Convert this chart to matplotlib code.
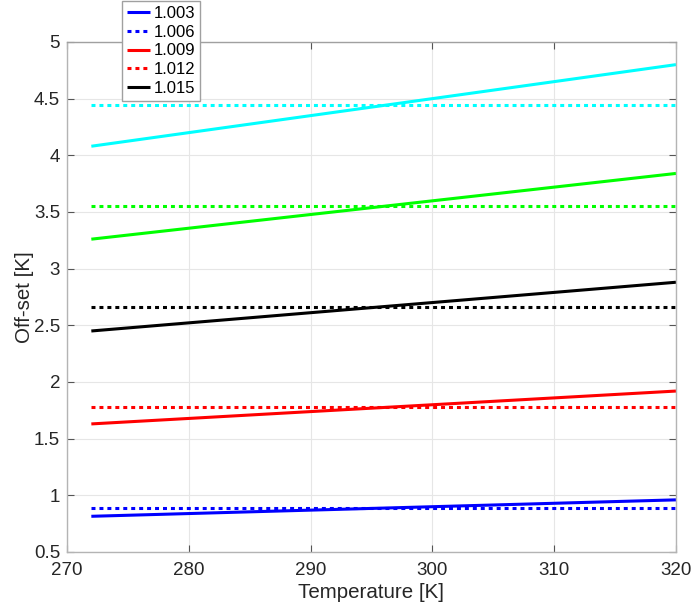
import matplotlib as mpl
mpl.use('Agg')
import matplotlib.pyplot as plt

plt.rcParams['font.family'] = ['Liberation Sans', 'DejaVu Sans']

# end points of each (straight) line
temp = [272, 320]
solid_vals = [[0.815, 0.96], [1.63, 1.92], [2.45, 2.88], [3.26, 3.84], [4.08, 4.80]]
dotted_vals = [0.888, 1.775, 2.663, 3.55, 4.44]
colors = ['#0000ff', '#ff0000', '#000000', '#00ff00', '#00ffff']
labels = ['1.003', '1.006', '1.009', '1.012', '1.015']

lw = 2.2
fig = plt.figure(figsize=(6.94, 6.09), dpi=100)
ax = fig.add_axes([0.0965, 0.0936, 0.8775, 0.8375])

handles = []
for sv, dv, c in zip(solid_vals, dotted_vals, colors):
    h1, = ax.plot(temp, sv, color=c, lw=lw, solid_capstyle='butt')
    h2, = ax.plot(temp, [dv, dv], color=c, lw=lw, linestyle=(0, (1.3, 1.3)))
    handles += [h1, h2]

ax.set_xlim(270, 320)
ax.set_ylim(0.5, 5)
ax.set_xticks([270, 280, 290, 300, 310, 320])
ax.set_yticks([0.5, 1, 1.5, 2, 2.5, 3, 3.5, 4, 4.5, 5])
ax.set_yticklabels(['0.5', '1', '1.5', '2', '2.5', '3', '3.5', '4', '4.5', '5'])
ax.grid(True, color='#e6e6e6', lw=0.8)
ax.set_axisbelow(True)
ax.tick_params(direction='in', length=5, width=0.8, color='#555555',
               labelsize=13.5, labelcolor='#262626', top=True, right=True)
ax.tick_params(axis='x', pad=7)
ax.tick_params(axis='y', pad=5)
for s in ax.spines.values():
    s.set_color('#b4b4b4')
    s.set_linewidth(1.0)
ax.spines['top'].set_color('#a0a0a0')

ax.set_xlabel('Temperature [K]', fontsize=14.8, color='#262626', labelpad=3)
ax.set_ylabel('Off-set [K]', fontsize=14.8, color='#262626', labelpad=0)

# the legend only lists the first five lines drawn
leg = fig.legend(handles[:5], labels, loc='upper left',
                 bbox_to_anchor=(122 / 694, 1 - 1 / 609), fontsize=12,
                 frameon=True, fancybox=False, framealpha=1, edgecolor='#a0a0a0',
                 handlelength=1.35, handletextpad=0.25, labelspacing=0.22,
                 borderpad=0.3, borderaxespad=0)
leg.get_frame().set_linewidth(1.0)

plt.savefig('out.png', dpi=100)
